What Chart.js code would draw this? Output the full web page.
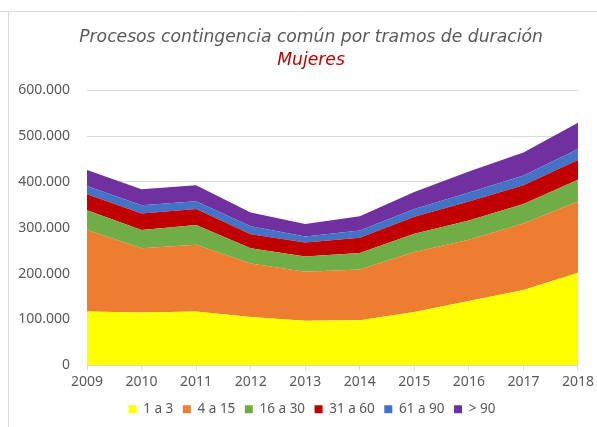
<!DOCTYPE html>
<html>
<head>
<meta charset="utf-8">
<script src="https://cdn.jsdelivr.net/npm/chart.js@4"></script>
<style>
  html, body { margin: 0; padding: 0; background: #fff; }
  #wrap { position: relative; width: 597px; height: 427px; }
</style>
</head>
<body>
<div id="wrap"><canvas id="chart" width="597" height="427"></canvas></div>
<script>
// values (number of processes)
const years = ['2009', '2010', '2011', '2012', '2013', '2014', '2015', '2016', '2017', '2018'];
const tramo1a3   = [117000, 115000, 117000, 105000, 97000, 98000, 116000, 140000, 164000, 202000];
const tramo4a15  = [178000, 140000, 146000, 117000, 107000, 111000, 131000, 134000, 145000, 155000];
const tramo16a30 = [43000, 40000, 43000, 33000, 33000, 36000, 40000, 42000, 43000, 48000];
const tramo31a60 = [35000, 36000, 35000, 31000, 31000, 33000, 37000, 41000, 41000, 43000];
const tramo61a90 = [18000, 18000, 17000, 17000, 13000, 16000, 17000, 20000, 21000, 24000];
const tramoMas90 = [35000, 35000, 35000, 30000, 27000, 31000, 37000, 46000, 50000, 57000];

const seriesNames = ['1 a 3', '4 a 15', '16 a 30', '31 a 60', '61 a 90', '> 90'];
const seriesData = [tramo1a3, tramo4a15, tramo16a30, tramo31a60, tramo61a90, tramoMas90];
const seriesColors = ['#FFFF00', '#ED7D31', '#70AD47', '#C00000', '#4472C4', '#7030A0'];

const textGray = '#595959';
const gridGray = '#D9D9D9';

function fmtMiles(v) {
    return String(v).replace(/\B(?=(\d{3})+(?!\d))/g, '.');
}

// thin frame of the original chart area (only top and left edges show)
const framePlugin = {
    id: 'frame',
    beforeDraw(chart) {
        const ctx = chart.ctx;
        ctx.save();
        ctx.strokeStyle = '#D9D9D9';
        ctx.lineWidth = 1;
        ctx.beginPath();
        ctx.moveTo(0, 11.5);
        ctx.lineTo(597, 11.5);
        ctx.moveTo(8.5, 11.5);
        ctx.lineTo(8.5, 427);
        ctx.stroke();
        ctx.restore();
    }
};

// in the original, title and legend are centred on the whole picture,
// not on the plot box; nudge those boxes right after layout
const centreShift = {
    id: 'centreShift',
    afterLayout(chart) {
        chart.boxes.forEach((b) => {
            if (b instanceof Chart.Scale) {return;}
            let dx = 0;
            if (b.position === 'top') {dx = 17;}
            if (b.position === 'bottom') {dx = 18;}
            b.left += dx;
            b.right += dx;
        });
    }
};

const datasets = seriesNames.map((name, i) => ({
    label: name,
    data: seriesData[i],
    backgroundColor: seriesColors[i],
    borderColor: seriesColors[i],
    borderWidth: 0,
    pointRadius: 0,
    pointHoverRadius: 0,
    fill: i === 0 ? 'origin' : '-1',
    tension: 0
}));

new Chart(document.getElementById('chart'), {
    type: 'line',
    data: { labels: years, datasets: datasets },
    plugins: [framePlugin, centreShift],
    options: {
        responsive: false,
        animation: false,
        layout: { padding: { left: 10, right: 19, top: 0, bottom: 1 } },
        plugins: {
            title: {
                display: true,
                text: 'Procesos contingencia común por tramos de duración',
                color: textGray,
                font: { family: 'DejaVu Sans', size: 17.2, style: 'italic', weight: 'normal' },
                padding: { top: 27, bottom: 0 }
            },
            subtitle: {
                display: true,
                text: 'Mujeres',
                color: '#C00000',
                font: { family: 'DejaVu Sans', size: 17.2, style: 'italic', weight: 'normal' },
                padding: { top: 3, bottom: 19 }
            },
            legend: {
                position: 'bottom',
                labels: {
                    color: textGray,
                    font: { family: 'Noto Sans', size: 13.5 },
                    boxWidth: 8,
                    boxHeight: 8,
                    padding: 9.5
                }
            },
            tooltip: { enabled: false }
        },
        scales: {
            x: {
                offset: false,
                grid: { drawOnChartArea: false, color: gridGray, tickLength: 5 },
                border: { color: gridGray },
                ticks: { color: textGray, font: { family: 'Noto Sans', size: 14 }, padding: 3, maxRotation: 0 }
            },
            y: {
                stacked: true,
                min: 0,
                max: 600000,
                afterFit(scale) { scale.width = 77; },
                grid: { color: gridGray, drawTicks: false },
                border: { display: false },
                ticks: {
                    stepSize: 100000,
                    padding: 17,
                    color: textGray,
                    font: { family: 'Noto Sans', size: 14 },
                    callback: (v) => fmtMiles(v)
                }
            }
        }
    }
});
</script>
</body>
</html>
